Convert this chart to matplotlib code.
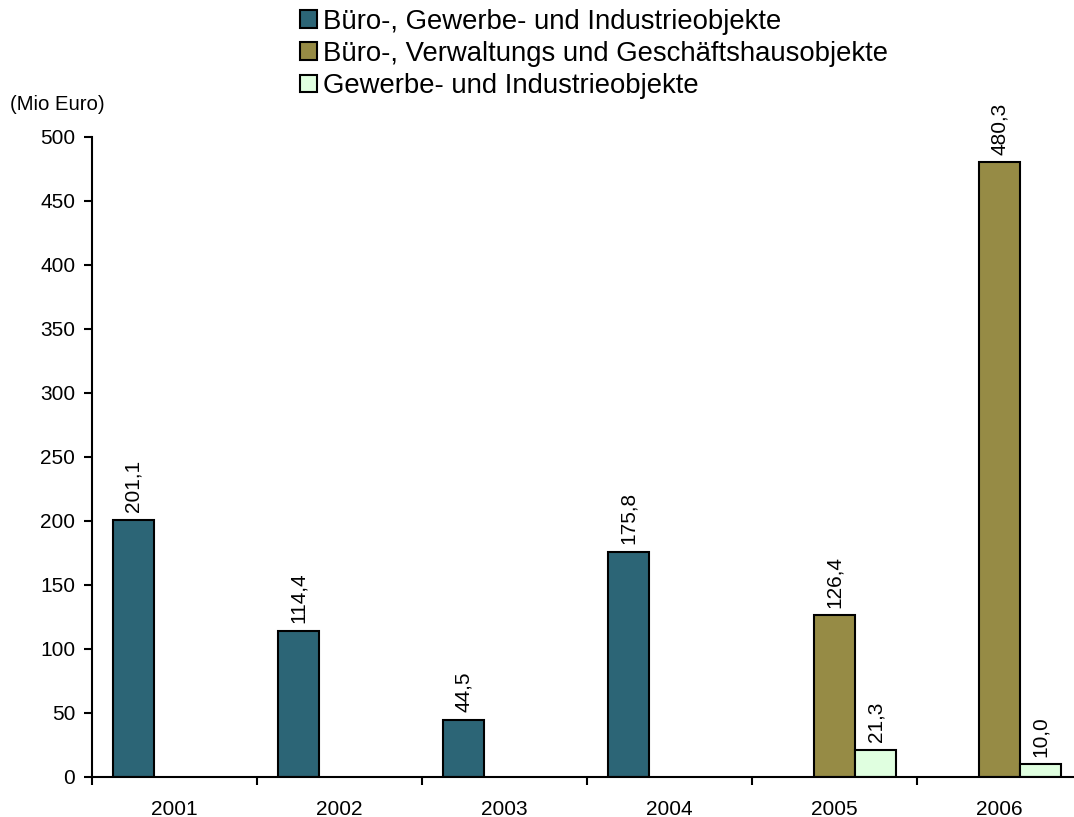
import numpy as np
import matplotlib.pyplot as plt

plt.rcParams['font.family'] = ['Liberation Sans', 'DejaVu Sans']

years = ['2001', '2002', '2003', '2004', '2005', '2006']
buero_gewerbe = [201.1, 114.4, 44.5, 175.8, np.nan, np.nan]
buero_verwaltung = [np.nan, np.nan, np.nan, np.nan, 126.4, 480.3]
gewerbe = [np.nan, np.nan, np.nan, np.nan, 21.3, 10.0]

series = [
    ('Büro-, Gewerbe- und Industrieobjekte', buero_gewerbe, '#2C6576'),
    ('Büro-, Verwaltungs und Geschäftshausobjekte', buero_verwaltung, '#968B45'),
    ('Gewerbe- und Industrieobjekte', gewerbe, '#E0FFE0'),
]

fig = plt.figure(figsize=(10.74, 8.17), dpi=100)
ax = fig.add_axes([92 / 1074, 1 - 777 / 817, 990 / 1074, 640 / 817])

x = np.arange(len(years))
w = 0.25
for i, (name, vals, col) in enumerate(series):
    pos = x + (i - 1) * w
    ax.bar(pos, vals, width=w, color=col, edgecolor='black', linewidth=1.5, label=name)
    for p, v in zip(pos, vals):
        if np.isnan(v):
            continue
        ax.annotate(f'{v:.1f}'.replace('.', ','), (p, v), xytext=(0, 5.5),
                    textcoords='offset points', rotation=90, ha='center', va='bottom',
                    fontsize=15)

ax.set_xlim(-0.5, len(years) - 0.5)
ax.set_ylim(0, 500)
ax.set_yticks(np.arange(0, 501, 50))
ax.set_xticks(x)
ax.set_xticklabels(years)
ax.set_xticks(np.arange(-0.5, len(years)), minor=True)
ax.tick_params(axis='x', which='major', length=0, pad=16.5, labelsize=15)
ax.tick_params(axis='x', which='minor', length=6, width=1.5, direction='out')
ax.tick_params(axis='y', length=6, width=1.5, labelsize=15, pad=6)
for s in ['top', 'right']:
    ax.spines[s].set_visible(False)
for s in ['left', 'bottom']:
    ax.spines[s].set_linewidth(1.5)

fig.text(10 / 1074, 1 - 104 / 817, '(Mio Euro)', fontsize=14.6, va='center', ha='left')

fig.legend(loc='upper left', bbox_to_anchor=(289 / 1074, 1.003), frameon=False,
           fontsize=19.8, handlelength=0.62, handleheight=0.62, handletextpad=0.22,
           labelspacing=0.23, borderaxespad=0.0)

fig.savefig('out.png', dpi=100)
